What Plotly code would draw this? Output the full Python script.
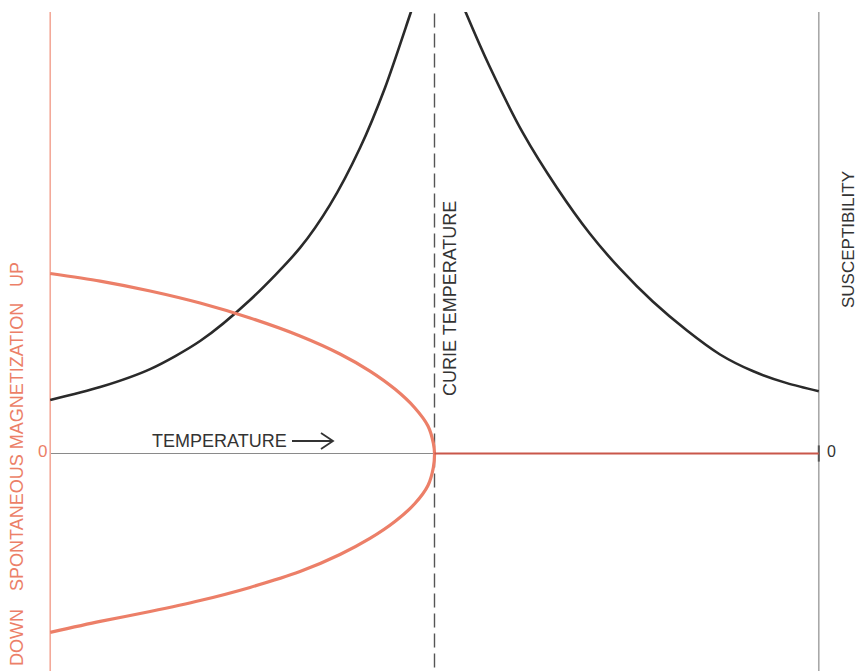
import plotly.graph_objects as go

# Temperature in units of the Curie temperature (Curie = 1)
CURIE_T = 1.0
T_MAX = 2.0

# Spontaneous magnetization (M/M0): lower (DOWN) branch and upper (UP) branch
mag_t = [0.0, 0.130, 0.260, 0.390, 0.520, 0.650, 0.754, 0.832, 0.897, 0.949, 0.983, 0.997]
mag_down_m = [-0.994, -0.933, -0.878, -0.817, -0.744, -0.656, -0.561, -0.472, -0.378, -0.278, -0.178, -0.078]
mag_up_m = [1.0, 0.958, 0.903, 0.836, 0.753, 0.653, 0.553, 0.458, 0.358, 0.253, 0.153, 0.058]

# Magnetization above Curie temperature (zero)
para_t = [1.0, 2.0]
para_m = [0.0, 0.0]

# Susceptibility below and above the Curie temperature
chi_low_t = [0.0, 0.130, 0.260, 0.390, 0.520, 0.650, 0.728, 0.806, 0.871, 0.936, 0.962]
chi_low_v = [0.297, 0.369, 0.469, 0.625, 0.853, 1.142, 1.381, 1.697, 2.031, 2.436, 2.603]
chi_high_t = [1.053, 1.082, 1.144, 1.230, 1.319, 1.404, 1.482, 1.568, 1.657, 1.743, 1.828, 1.917, 2.0]
chi_high_v = [2.600, 2.447, 2.147, 1.781, 1.475, 1.222, 1.028, 0.844, 0.683, 0.550, 0.458, 0.391, 0.346]

SALMON = "#EC7F68"
SALMON_LIGHT = "#F3A999"
DARK = "#2a2a2a"
FONT = "Liberation Sans, Arial, sans-serif"

fig = go.Figure()

# zero (temperature) axis
fig.add_trace(go.Scatter(x=[0, T_MAX], y=[0, 0], mode="lines",
                         line=dict(color="#8a8a8a", width=1.2), hoverinfo="skip"))
# left axis (magnetization)
fig.add_trace(go.Scatter(x=[0, 0], y=[-1.3, 2.6], mode="lines",
                         line=dict(color=SALMON_LIGHT, width=1.6), hoverinfo="skip"))
# right axis (susceptibility)
fig.add_trace(go.Scatter(x=[T_MAX, T_MAX], y=[-1.3, 2.6], mode="lines",
                         line=dict(color="#a8a8a8", width=1.6), hoverinfo="skip"))
fig.add_trace(go.Scatter(x=[T_MAX, T_MAX], y=[-0.045, 0.045], mode="lines",
                         line=dict(color="#555555", width=2), hoverinfo="skip"))
# Curie temperature dashed line
fig.add_trace(go.Scatter(x=[CURIE_T, CURIE_T], y=[-1.3, 2.453], mode="lines",
                         line=dict(color="#555555", width=1.4, dash="14px,6px"), hoverinfo="skip"))

# susceptibility curves
fig.add_trace(go.Scatter(x=chi_low_t, y=chi_low_v, mode="lines",
                         line=dict(color=DARK, width=2.6, shape="spline", smoothing=0.8),
                         hoverinfo="skip"))
fig.add_trace(go.Scatter(x=chi_high_t, y=chi_high_v, mode="lines",
                         line=dict(color=DARK, width=2.6, shape="spline", smoothing=0.8),
                         hoverinfo="skip"))

# spontaneous magnetization: DOWN branch -> Curie point -> UP branch
fig.add_trace(go.Scatter(x=mag_t + [CURIE_T] + mag_t[::-1],
                         y=mag_down_m + [0.0] + mag_up_m[::-1], mode="lines",
                         line=dict(color=SALMON, width=3.2, shape="spline", smoothing=0.8),
                         hoverinfo="skip"))
fig.add_trace(go.Scatter(x=para_t, y=para_m, mode="lines",
                         line=dict(color="#C9574A", width=2), hoverinfo="skip"))

# pixel -> paper helpers (plot area: x 31..838, y 12..671)
L, R, T, B = 31, 838, 12, 671
def px(x):
    return (x - L) / (R - L)
def py(y):
    return (B - y) / (B - T)

ann = []
def label(text, x, y, color, angle=0, size=18):
    ann.append(dict(text=text, x=px(x), y=py(y), xref="paper", yref="paper", showarrow=False,
                    textangle=angle, xanchor="center", yanchor="middle",
                    font=dict(family=FONT, size=size, color=color)))

label("SPONTANEOUS MAGNETIZATION", 17, 447, SALMON, angle=-90)
label("UP", 17, 275, SALMON, angle=-90)
label("DOWN", 17, 638, SALMON, angle=-90)
label("0", 42, 452, SALMON, size=17)
label("0", 831, 452, "#333333", size=16)
label("SUSCEPTIBILITY", 849, 240, "#333333", angle=-90, size=17)
label("CURIE TEMPERATURE", 450, 299, "#333333", angle=-90)
label("TEMPERATURE", 219, 441, "#333333")

layout_shapes = [
    dict(type="line", xref="paper", yref="paper", x0=px(292), x1=px(333), y0=py(441), y1=py(441),
         line=dict(color="#333333", width=1.8)),
    dict(type="path", xref="paper", yref="paper",
         path=f"M {px(321)} {py(433)} L {px(333)} {py(441)} L {px(321)} {py(449)}",
         line=dict(color="#333333", width=1.8)),
]

PY_UNIT = 180.0
fig.update_layout(
    width=860, height=671,
    margin=dict(l=L, r=860 - R, t=T, b=671 - B, pad=0),
    paper_bgcolor="white", plot_bgcolor="white",
    showlegend=False,
    xaxis=dict(range=[-0.05, 2.05], visible=False, fixedrange=True),
    yaxis=dict(range=[-(671 - 453.5) / PY_UNIT, (453.5 - 12) / PY_UNIT], visible=False, fixedrange=True),
    annotations=ann,
    shapes=layout_shapes,
)

fig.write_html("out.html", config={"displayModeBar": False},
               post_script="document.body.style.margin='0';document.body.style.overflow='hidden';")
